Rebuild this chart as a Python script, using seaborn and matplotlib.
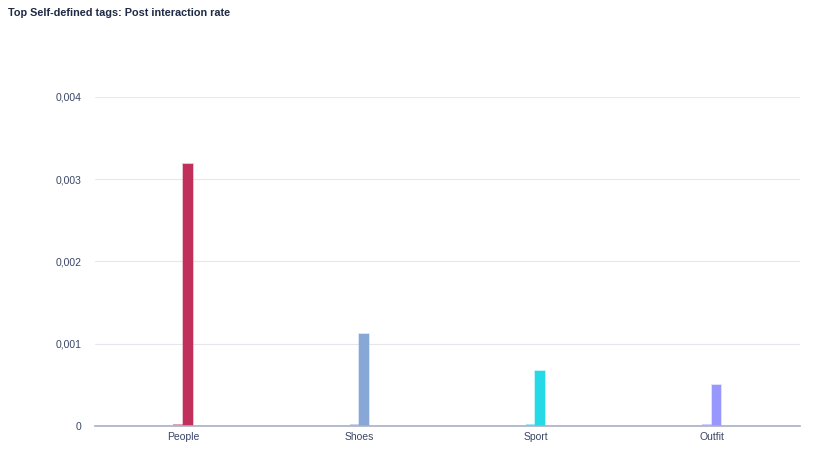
import numpy as np
import pandas as pd
import matplotlib
matplotlib.use("Agg")
import matplotlib.pyplot as plt
import seaborn as sns
from matplotlib.ticker import FuncFormatter

# data
tags = ["People", "Shoes", "Sport", "Outfit"]
prev_rate = [0.00002, 0.00002, 0.00002, 0.00002]
rate = [0.00319, 0.00112, 0.00067, 0.0005]
colors = ["#C0305A", "#87A7D6", "#25D9E6", "#9797FD"]
yticks = [0, 0.001, 0.002, 0.003, 0.004]

df = pd.DataFrame({
    "tag": tags * 2,
    "series": ["previous"] * 4 + ["current"] * 4,
    "value": prev_rate + rate,
})

sns.set_theme(style="white")
plt.rcParams["font.family"] = ["Liberation Sans", "DejaVu Sans"]

fig = plt.figure(figsize=(8.27, 4.73), dpi=100)
ax = fig.add_axes([0.1149, 0.0994, 0.852, 0.6956])

sns.barplot(data=df, x="tag", y="value", hue="series", order=tags,
            hue_order=["previous", "current"], dodge=True, width=0.11,
            legend=False, ax=ax)

# colour bars per tag (patches are grouped by hue level)
for i, p in enumerate(ax.patches):
    c = colors[i % 4]
    if i < 4:
        p.set_facecolor(c)
        p.set_alpha(0.45)
        p.set_edgecolor("none")
    else:
        p.set_facecolor(c)
        p.set_edgecolor(matplotlib.colors.to_rgba(c, 0.35))
        p.set_linewidth(1.2)

ax.set_ylim(0, 0.004)
ax.set_xlim(-0.5, 3.5)
ax.set_yticks(yticks)
ax.yaxis.set_major_formatter(FuncFormatter(
    lambda v, pos: "0" if v == 0 else f"{v:.3f}".replace(".", ",")))
ax.grid(axis="y", color="#E6E8EE", linewidth=0.8)
ax.set_axisbelow(True)
for s in ["top", "right", "left"]:
    ax.spines[s].set_visible(False)
ax.spines["bottom"].set_color("#A9B0C4")
ax.spines["bottom"].set_linewidth(1.2)
ax.tick_params(axis="both", length=0, labelsize=7.5, colors="#3A4666", pad=10)
ax.tick_params(axis="x", pad=4)
ax.set_xlabel("")
ax.set_ylabel("")

fig.text(0.0097, 0.972, "Top Self-defined tags: Post interaction rate",
         fontsize=7.8, fontweight="bold", color="#1F2A44", va="center")

fig.savefig("out.png", dpi=100)
